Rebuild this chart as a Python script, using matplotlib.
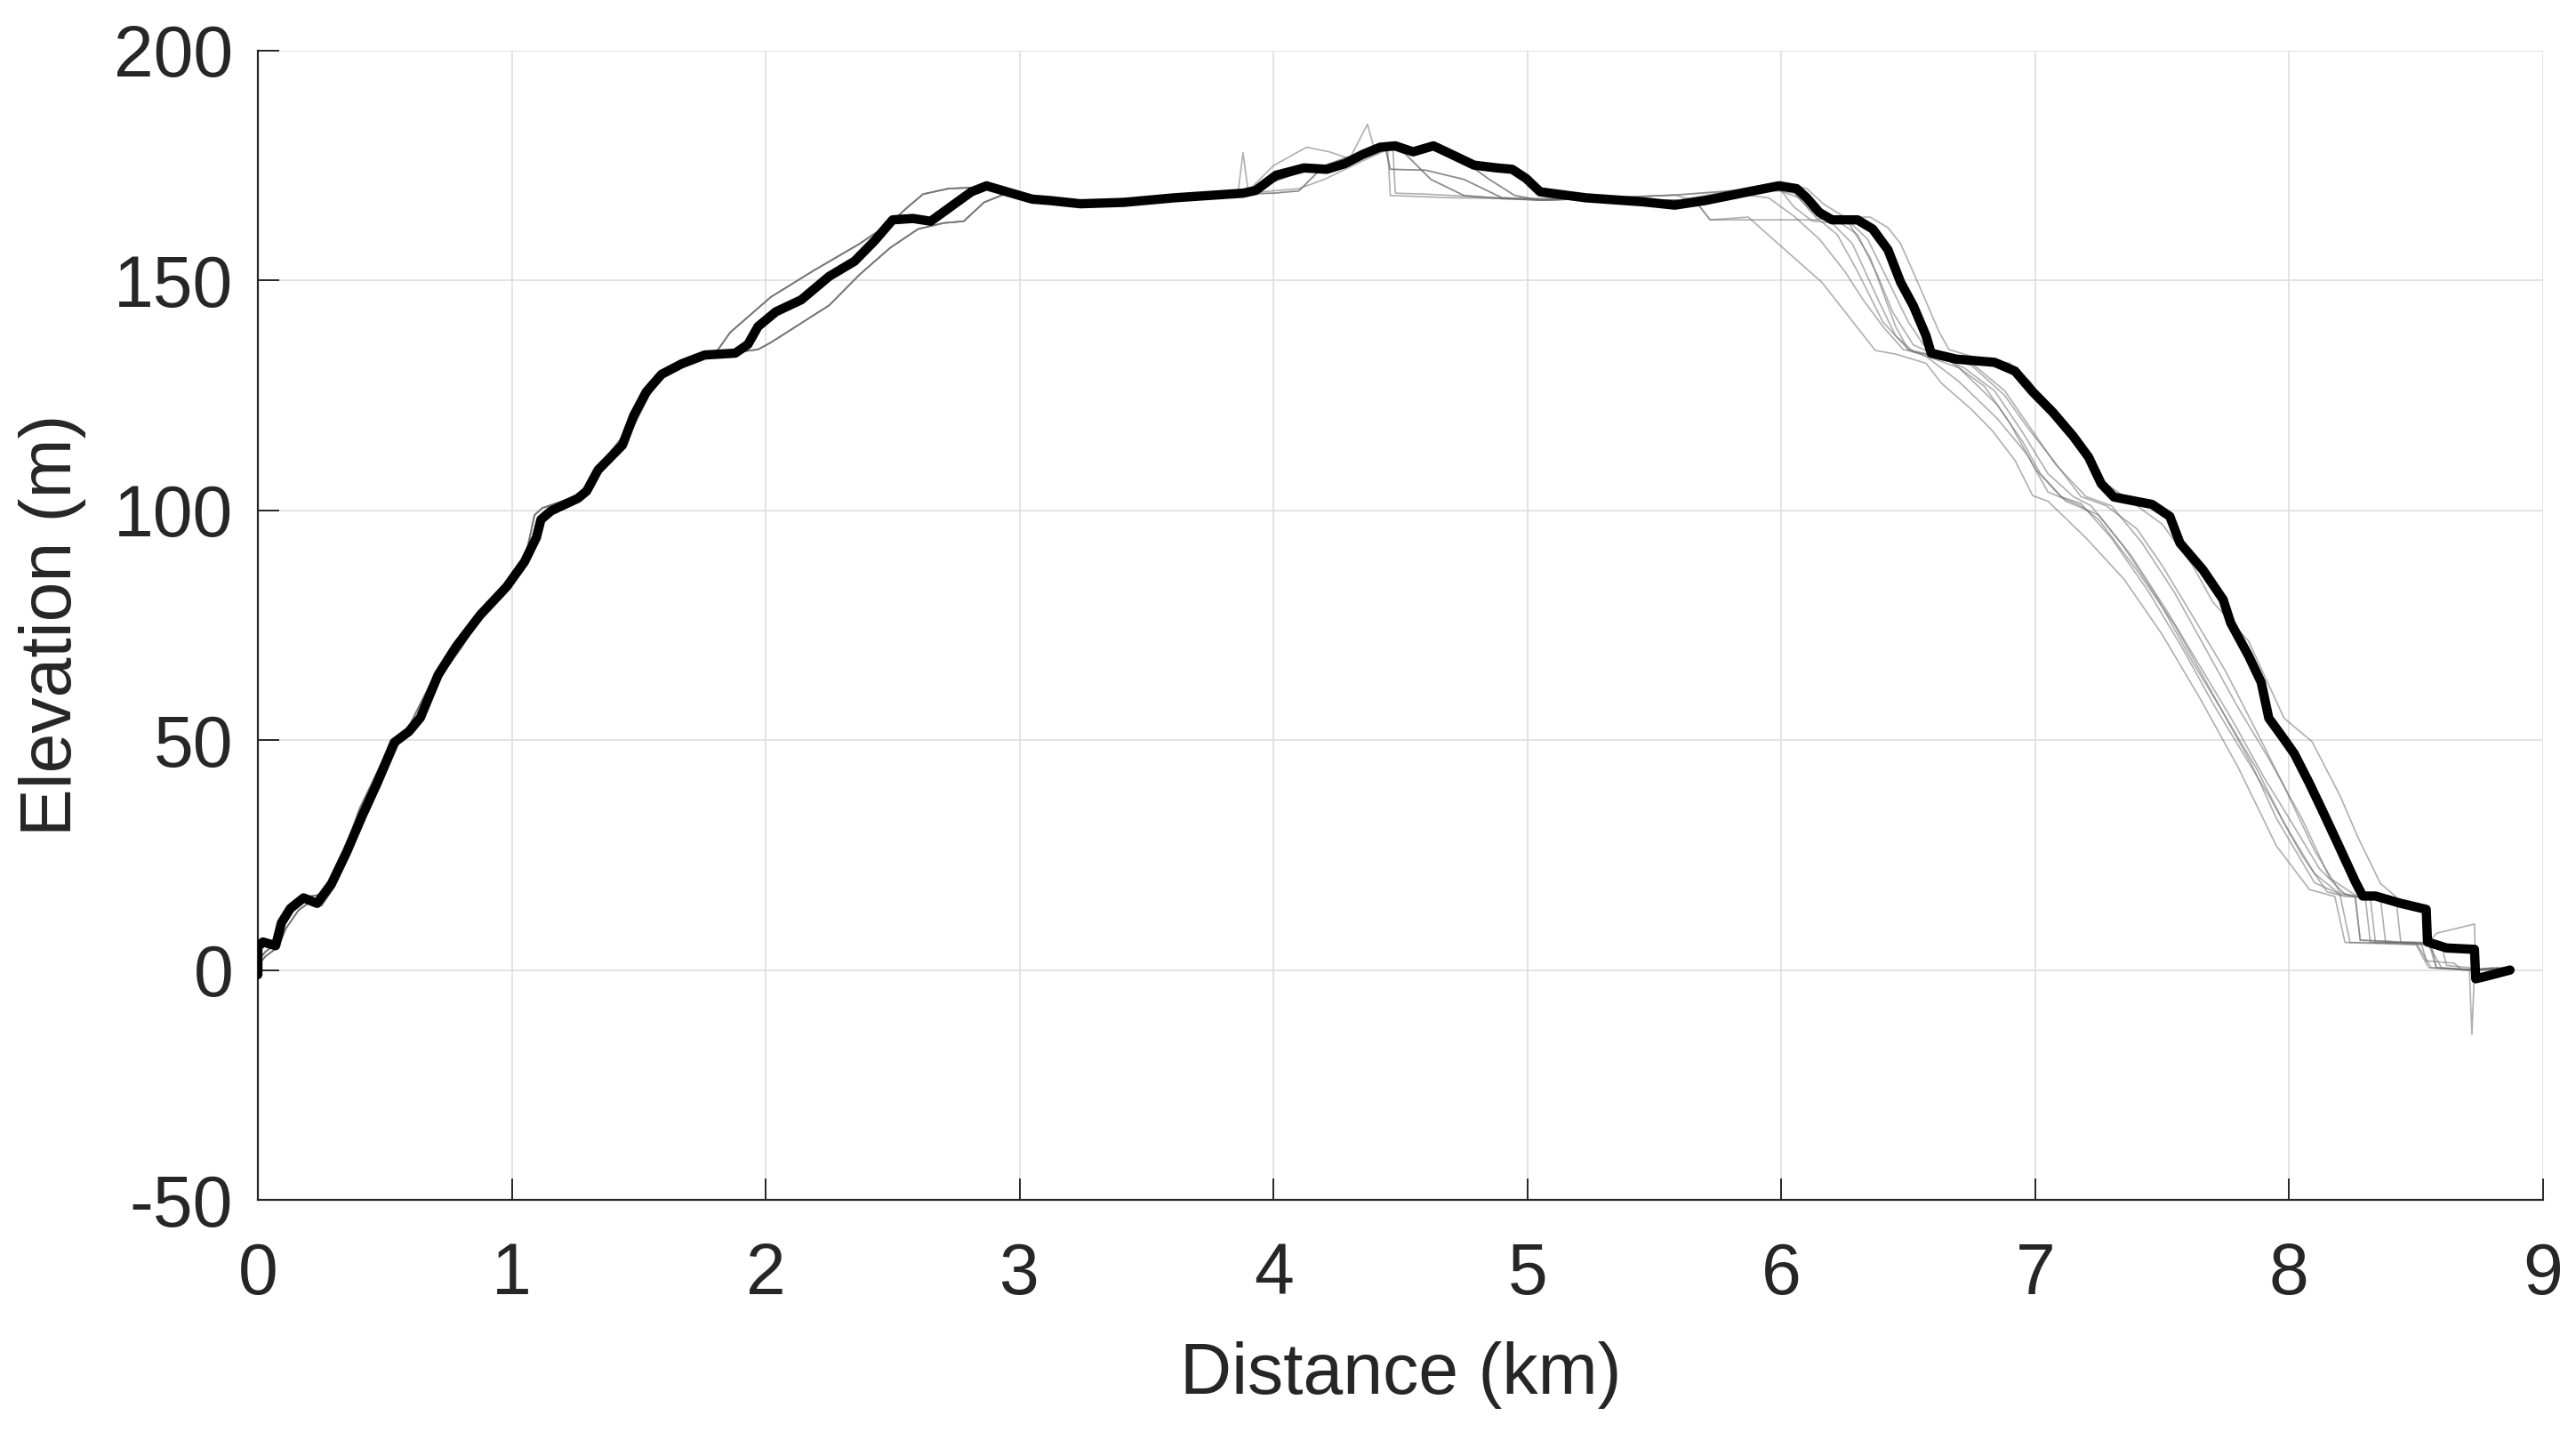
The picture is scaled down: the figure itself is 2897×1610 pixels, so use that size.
import matplotlib
matplotlib.use("Agg")
import matplotlib.pyplot as plt

# ---------------- data ----------------
# main (bold) elevation profile
black_km = [0.0, 0.0, 0.02, 0.07, 0.093, 0.128, 0.18, 0.233, 0.29, 0.35, 0.41, 0.467,
            0.537, 0.595, 0.64, 0.71, 0.78, 0.875, 0.98, 1.05, 1.097, 1.115, 1.155,
            1.26, 1.295, 1.34, 1.436, 1.48, 1.53, 1.59, 1.67, 1.76, 1.88, 1.93, 1.97,
            2.04, 2.14, 2.25, 2.35, 2.43, 2.50, 2.58, 2.65, 2.73, 2.81, 2.87, 2.95,
            3.05, 3.12, 3.24, 3.41, 3.61, 3.88, 3.93, 4.01, 4.12, 4.21, 4.28, 4.35,
            4.42, 4.48, 4.55, 4.63, 4.68, 4.79, 4.88, 4.94, 4.995, 5.05, 5.23, 5.46,
            5.58, 5.70, 5.87, 5.99, 6.06, 6.10, 6.15, 6.20, 6.30, 6.36, 6.42, 6.47,
            6.52, 6.57, 6.59, 6.69, 6.84, 6.92, 6.99, 7.07, 7.15, 7.21, 7.26, 7.31,
            7.46, 7.53, 7.57, 7.66, 7.74, 7.77, 7.84, 7.89, 7.92, 7.97, 8.02, 8.08,
            8.13, 8.19, 8.26, 8.29, 8.34, 8.44, 8.54, 8.545, 8.58, 8.62, 8.73, 8.735,
            8.78, 8.87]
black_elev = [-1, 5, 6.1, 5.3, 10.3, 13.4, 15.7, 14.5, 18.8, 25.7, 33.4, 40.3,
              49.5, 51.9, 54.9, 64.2, 70.3, 77.2, 83.4, 88.8, 94.1, 98.0, 99.9,
              102.6, 104.2, 108.8, 114.2, 120.6, 125.8, 129.6, 131.9, 133.8, 134.2, 136.1, 140.0,
              143.2, 145.8, 150.9, 154.2, 158.7, 163.2, 163.5, 162.9, 166.1, 169.3, 170.6, 169.3,
              167.7, 167.4, 166.7, 167.0, 168.0, 169.0, 169.6, 172.9, 174.5, 174.2, 175.4, 177.4,
              179.0, 179.3, 178.0, 179.3, 178.0, 175.1, 174.5, 174.2, 172.2, 169.3, 168.0, 167.1,
              166.4, 167.4, 169.3, 170.6, 170.0, 168.0, 164.8, 163.2, 163.2, 161.2, 156.7, 149.6,
              144.5, 138.0, 134.2, 132.9, 132.2, 130.3, 125.8, 121.3, 116.1, 111.6, 105.8, 102.9,
              101.3, 98.7, 92.9, 87.1, 80.6, 75.5, 68.4, 62.6, 54.8, 51.0, 47.1, 40.6,
              34.8, 27.7, 19.3, 16.1, 16.1, 14.5, 13.2, 6.1, 5.5, 4.8, 4.5, -1.9,
              -1.3, 0.0]

# thin grey runs, assembled from segments
start_spike_km = [0.0, 0.0]
start_spike_elev = [77, -13]

asc_upper_km = [0.0, 0.03, 0.08, 0.10, 0.15, 0.20, 0.26, 0.31, 0.40, 0.50, 0.60, 0.70,
                0.80, 0.95, 1.05, 1.09, 1.12, 1.25, 1.30, 1.35, 1.45, 1.55, 1.65, 1.80,
                1.86, 2.02, 2.19, 2.37, 2.49, 2.56, 2.62, 2.72, 2.85, 2.95, 3.10]
asc_upper_elev = [2, 4, 6, 11, 14, 16, 16.5, 21, 35, 46.5, 53.5, 64.5,
                  72, 82, 89, 99, 100.5, 103, 105, 110, 117, 126.5, 131.5, 134,
                  138.7, 146.4, 152.2, 158, 162.5, 166, 168.8, 170, 170.3, 169.2, 167.5]

asc_lower_km = [0.0, 0.03, 0.08, 0.11, 0.16, 0.21, 0.25, 0.30, 0.36, 0.42, 0.48, 0.56,
                0.65, 0.72, 0.80, 0.88, 0.99, 1.06, 1.11, 1.13, 1.17, 1.27, 1.31, 1.35,
                1.44, 1.54, 1.60, 1.68, 1.78, 1.90, 1.97, 2.02, 2.25, 2.37, 2.49, 2.60,
                2.70, 2.78, 2.86, 2.95, 3.10]
asc_lower_elev = [1, 3, 5, 9, 13, 15, 14, 18, 25, 33, 40, 50,
                  55, 64, 70, 77, 83, 88.5, 97, 99.5, 100.5, 103, 104.5, 109,
                  114, 125, 129.5, 132, 133.8, 134.5, 135, 136.5, 144.6, 151.3, 157.1, 161.2,
                  162.5, 162.9, 167, 169, 167.5]

plat_km = [3.30, 3.60, 3.85]
plat_elev = [166.8, 167.8, 168.8]

peak_a_km = [3.86, 3.88, 3.90, 4.00, 4.13, 4.22, 4.30, 4.37, 4.40, 4.45, 4.46, 4.70, 5.00]
peak_a_elev = [169, 177.8, 169.5, 175, 179, 178, 176.5, 184, 178, 178.5, 168.5, 168, 167.8]
peak_b_km = [4.00, 4.10, 4.20, 4.30, 4.44, 4.46, 4.60, 4.75, 4.90, 5.05]
peak_b_elev = [169, 169.5, 175, 177, 179, 174.2, 174, 172, 168, 167.5]
peak_c_km = [4.00, 4.12, 4.25, 4.35, 4.45, 4.52, 4.62, 4.75, 4.90, 5.05]
peak_c_elev = [171.5, 174, 175.5, 177.5, 179, 177.5, 172, 168.5, 167.8, 167.5]
peak_d_km = [4.05, 4.15, 4.28, 4.42, 4.55, 4.65, 4.75, 4.85, 4.95, 5.05]
peak_d_elev = [172.5, 174.5, 175.5, 179, 178.5, 178.5, 176, 172, 168.5, 167.5]
peak_e_km = [4.10, 4.20, 4.35, 4.47, 4.48, 4.60, 4.80, 5.00]
peak_e_elev = [170, 172, 176, 179, 169, 168.8, 168.2, 167.8]

mid_km = [5.25, 5.45, 5.60]
mid_elev = [167.8, 167.3, 167.5]
mid_hi_km = [5.25, 5.45, 5.58]
mid_hi_elev = [167.8, 168.3, 168.6]

d1_km = [5.66, 5.72, 5.87, 6.00, 6.16, 6.37, 6.45, 6.57, 6.63, 6.75, 6.83, 6.92, 6.99,
         7.05, 7.20, 7.35, 7.50, 7.65, 7.80, 7.95, 8.08, 8.18, 8.22, 8.50, 8.55, 8.71,
         8.72, 8.73, 8.82]
d1_elev = [167.4, 163.2, 163.8, 157.4, 149.6, 134.8, 134, 132, 127.7, 121.9, 117.4, 110.9, 103.2,
           102, 94, 85, 73, 59, 44, 27, 17.5, 16, 6, 5.5, 0.5, 0,
           -14, 0, 0.5]
d2_km = [5.66, 5.72, 6.15, 6.22, 6.30, 6.40, 6.50, 6.57, 6.70, 6.85, 6.97, 7.05, 7.18,
         7.25, 7.40, 7.55, 7.70, 7.85, 7.95, 8.10, 8.20, 8.26, 8.28, 8.50, 8.56, 8.72, 8.85]
d2_elev = [167.4, 163.2, 163.2, 160, 152, 141, 135, 133.5, 128, 120, 112, 104, 101,
           98, 87, 75, 60, 45, 33, 19, 16.5, 16, 6.5, 6, 0.5, 0, 0.3]
d3_km = [5.90, 6.00, 6.05, 6.12, 6.20, 6.28, 6.38, 6.45, 6.52, 6.62, 6.75, 6.88, 6.97,
         7.07, 7.18, 7.28, 7.40, 7.50, 7.62, 7.75, 7.88, 7.98, 8.10, 8.20, 8.25, 8.32,
         8.34, 8.55, 8.58, 8.74, 8.85]
d3_elev = [169.5, 169.5, 166, 163, 162.5, 158, 146, 138, 134.5, 133.5, 131.5, 125, 118,
           111, 103, 101, 96, 88, 77, 65, 51, 40, 26, 17, 16, 15.5,
           6, 5.8, 0.5, 0, 0.3]
d4_km = [6.00, 6.10, 6.17, 6.25, 6.35, 6.42, 6.47, 6.55, 6.62, 6.66, 6.75, 6.90, 6.98,
         7.05, 7.15, 7.25, 7.35, 7.50, 7.62, 7.70, 7.84, 7.98, 8.09, 8.20, 8.27, 8.36,
         8.42, 8.44, 8.60, 8.62, 8.75, 8.85]
d4_elev = [171.5, 170, 166.5, 163.8, 163.8, 161.5, 158, 148, 139, 135, 133.5, 132, 128,
           122, 115, 107, 103, 97, 88, 80, 71.6, 54.8, 49.7, 38, 29, 18.8,
           16, 6, 5.5, 1, 0.3, 0.5]
d5_km = [5.95, 6.05, 6.12, 6.20, 6.26, 6.35, 6.45, 6.50, 6.65, 6.80, 6.90, 7.00, 7.10,
         7.18, 7.30, 7.45, 7.58, 7.70, 7.82, 7.92, 8.05, 8.15, 8.22, 8.30, 8.32, 8.55,
         8.60, 8.75, 8.83]
d5_elev = [170, 169, 165, 163.5, 163, 155, 140, 135, 133, 127, 119, 109, 103,
           101.5, 94, 82, 70, 58, 47, 38, 25, 17, 16, 15.8, 6, 5.5,
           0.5, 0, 0.4]
d6_km = [5.80, 5.95, 6.05, 6.15, 6.25, 6.32, 6.40, 6.48, 6.55, 6.70, 6.85, 6.95, 7.02,
         7.12, 7.25, 7.38, 7.52, 7.65, 7.78, 7.90, 8.00, 8.12, 8.22, 8.36, 8.38, 8.52,
         8.54, 8.65, 8.68, 8.78, 8.85]
d6_elev = [169, 168, 164, 159, 152, 146, 140, 135, 134, 131, 123, 115, 108,
           102, 99, 90, 78, 66, 54, 42, 33, 22, 16.5, 15.5, 6, 6,
           2, 1.5, 0, 0, 0.3]
d7_km = [5.97, 6.07, 6.14, 6.22, 6.30, 6.38, 6.44, 6.52, 6.60, 6.72, 6.84, 6.95, 7.05,
         7.15, 7.22, 7.35, 7.48, 7.62, 7.74, 7.87, 7.98, 8.10, 8.20, 8.24, 8.55, 8.58,
         8.73, 8.735, 8.80]
d7_elev = [170, 168, 163.5, 163, 160, 151, 143, 136, 134, 131, 126, 117, 108,
           103, 101, 92, 81, 67, 56, 44, 32, 21, 16.5, 6, 6, 8,
           10, 0, 0.5]
d8_km = [6.02, 6.10, 6.16, 6.26, 6.34, 6.42, 6.50, 6.56, 6.62, 6.75, 6.88, 6.98, 7.08,
         7.20, 7.30, 7.42, 7.55, 7.68, 7.80, 7.92, 8.05, 8.16, 8.26, 8.28, 8.40, 8.42,
         8.56, 8.58, 8.70, 8.86]
d8_elev = [170.5, 168, 163.5, 163.2, 159, 150, 141, 136, 134, 132, 126, 118, 110,
           103, 101, 93, 82, 69, 57, 46, 33, 20, 16.3, 6.5, 6.2, 6,
           5.5, 0.5, 0, 0.5]

x_ticks = [0, 1, 2, 3, 4, 5, 6, 7, 8, 9]
y_ticks = [-50, 0, 50, 100, 150, 200]
x_label = "Distance (km)"
y_label = "Elevation (m)"

# assemble grey runs from their segments
runs = [
    (start_spike_km + asc_upper_km + plat_km + peak_a_km + mid_km + d1_km,
     start_spike_elev + asc_upper_elev + plat_elev + peak_a_elev + mid_elev + d1_elev),
    (asc_lower_km + plat_km + peak_b_km + mid_hi_km + d2_km,
     asc_lower_elev + plat_elev + peak_b_elev + mid_hi_elev + d2_elev),
    (asc_upper_km + plat_km + peak_c_km + mid_km + d3_km,
     asc_upper_elev + plat_elev + peak_c_elev + mid_elev + d3_elev),
    (asc_lower_km + plat_km + peak_d_km + mid_km + d4_km,
     asc_lower_elev + plat_elev + peak_d_elev + mid_elev + d4_elev),
    (asc_upper_km + plat_km + peak_e_km + mid_hi_km + d5_km,
     asc_upper_elev + plat_elev + peak_e_elev + mid_hi_elev + d5_elev),
    (asc_lower_km + plat_km + peak_b_km + mid_km + d6_km,
     asc_lower_elev + plat_elev + peak_b_elev + mid_elev + d6_elev),
    (asc_upper_km + plat_km + peak_d_km + mid_km + d7_km,
     asc_upper_elev + plat_elev + peak_d_elev + mid_elev + d7_elev),
    (asc_lower_km + plat_km + peak_c_km + mid_hi_km + d8_km,
     asc_lower_elev + plat_elev + peak_c_elev + mid_hi_elev + d8_elev),
]

# ---------------- drawing ----------------
plt.rcParams['font.family'] = ['Liberation Sans', 'DejaVu Sans']
txt = '#262626'

fig = plt.figure(figsize=(28.97, 16.10), dpi=100)
ax = fig.add_axes([0.1001, 0.1621, 0.8871, 0.8025])

for rx, ry in runs:
    ax.plot(rx, ry, color='#6e6e6e', lw=1.2, alpha=0.55, zorder=2)

ax.plot(black_km, black_elev, color='black', lw=7.5, zorder=3,
        solid_joinstyle='round', solid_capstyle='round')

ax.set_xlim(0, 9)
ax.set_ylim(-50, 200)
ax.set_xticks(x_ticks)
ax.set_yticks(y_ticks)
ax.set_xticklabels([str(v) for v in x_ticks])
ax.set_yticklabels([str(v) for v in y_ticks])

ax.grid(True, color='#dedede', lw=1.2, zorder=0)
ax.set_axisbelow(True)

for s in ['top', 'right']:
    ax.spines[s].set_visible(False)
for s in ['left', 'bottom']:
    ax.spines[s].set_color(txt)
    ax.spines[s].set_linewidth(1.6)

ax.tick_params(axis='both', direction='in', length=17, width=1.4, color=txt,
               labelsize=58, labelcolor=txt)
ax.tick_params(axis='y', pad=20)
ax.tick_params(axis='x', pad=34)

ax.set_xlabel(x_label, fontsize=58, color=txt, labelpad=26)
ax.set_ylabel(y_label, fontsize=58, color=txt, labelpad=22)

fig.savefig('out.png', dpi=100, facecolor='white')
